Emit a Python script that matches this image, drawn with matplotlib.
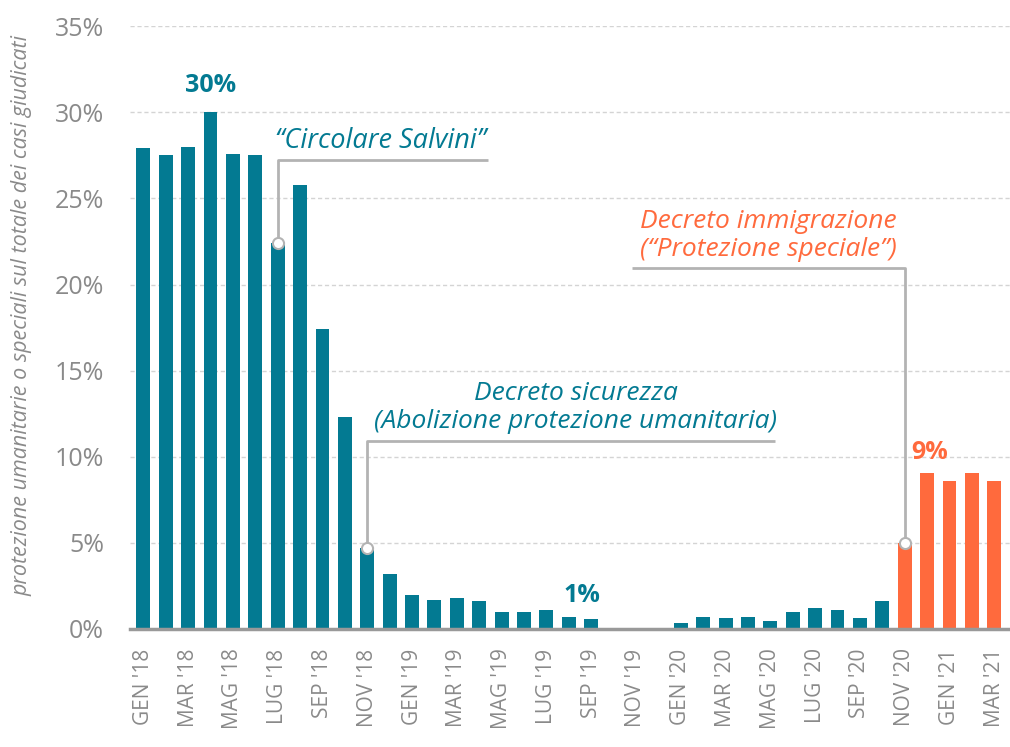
import matplotlib
matplotlib.use("Agg")
import matplotlib.pyplot as plt
import numpy as np

# --- Data ---
tick_months = ["GEN", "MAR", "MAG", "LUG", "SEP", "NOV"]
years = ["18", "19", "20", "21"]

share_2018 = [27.9, 27.5, 28.0, 30.0, 27.6, 27.5, 22.4, 25.8, 17.4, 12.3, 4.7, 3.2]
share_2019 = [2.0, 1.7, 1.8, 1.6, 1.0, 1.0, 1.1, 0.7, 0.6, 0.0, 0.0, 0.0]
share_2020 = [0.35, 0.7, 0.65, 0.7, 0.45, 1.0, 1.2, 1.1, 0.65, 1.6, 5.0, 9.05]
share_2021 = [8.6, 9.05, 8.6]

values = share_2018 + share_2019 + share_2020 + share_2021
first_new_law = 34   # NOV '20: bars from here on are orange

TEAL = "#037a92"
ORANGE = "#ff6a3d"
GREY_TXT = "#8a8a8a"
LINE_GREY = "#b3b3b3"

plt.rcParams["font.family"] = ["Open Sans", "DejaVu Sans"]

fig = plt.figure(figsize=(10.1, 7.47), dpi=100)
ax = fig.add_axes([0.129, 0.158, 0.871, 0.807])

x = np.arange(len(values))
colors = [TEAL if i < first_new_law else ORANGE for i in x]
ax.bar(x, values, width=0.62, color=colors, zorder=3)

# tick labels every two months
tick_pos = x[::2]
tick_lab = []
for i in tick_pos:
    y = years[i // 12]
    m = tick_months[(i % 12) // 2]
    tick_lab.append(f"{m} '{y}")
ax.set_xticks(tick_pos)
ax.set_xticklabels(tick_lab, rotation=90, fontsize=15, color=GREY_TXT)

ax.set_ylim(0, 35)
ax.set_xlim(-0.58, 38.7)
yt = np.arange(0, 36, 5)
ax.set_yticks(yt)
ax.set_yticklabels([f"{v}%" for v in yt], fontsize=18, color=GREY_TXT)
ax.tick_params(axis="both", length=0)
ax.tick_params(axis="y", pad=19)
ax.tick_params(axis="x", pad=14)

ax.grid(axis="y", color="#d4d4d4", linestyle=(0, (3, 2)), linewidth=1, zorder=0)
for s in ["top", "right", "left"]:
    ax.spines[s].set_visible(False)
ax.spines["bottom"].set_color("#999999")
ax.spines["bottom"].set_linewidth(2.5)
ax.spines["bottom"].set_zorder(4)

fig.text(0.022, 0.578, "protezione umanitarie o speciali sul totale dei casi giudicati",
         rotation=90, ha="center", va="center", fontsize=15.5, style="italic", color=GREY_TXT)

# --- Annotations ---
def callout(ax, i, top, y_line, x_end):
    ax.plot([i, i, x_end], [top, y_line, y_line], color=LINE_GREY, lw=2, zorder=4,
            solid_capstyle="butt")
    ax.plot(i, top, "o", ms=8, mfc="white", mec=LINE_GREY, mew=1.5, zorder=5)

callout(ax, 6, values[6], 27.2, 15.4)
ax.text(5.9, 27.5, "\u201cCircolare Salvini\u201d", color=TEAL, fontsize=19.5,
        style="italic", ha="left", va="bottom", zorder=5)

callout(ax, 10, values[10], 10.9, 28.2)
ax.text(19.3, 11.3, "Decreto sicurezza\n(Abolizione protezione umanitaria)", color=TEAL,
        fontsize=19, style="italic", ha="center", va="bottom", linespacing=1.15, zorder=5)

callout(ax, 34, values[34], 20.95, 21.8)
ax.text(27.9, 21.3, "Decreto immigrazione\n(\u201cProtezione speciale\u201d)", color=ORANGE,
        fontsize=19, style="italic", ha="center", va="bottom", linespacing=1.15, zorder=5)

ax.text(3, 30.8, "30%", color=TEAL, fontsize=18, fontweight="bold", ha="center", va="bottom")
ax.text(19.6, 1.2, "1%", color=TEAL, fontsize=18, fontweight="bold", ha="center", va="bottom")
ax.text(35.1, 9.5, "9%", color=ORANGE, fontsize=18, fontweight="bold", ha="center", va="bottom")

fig.savefig("out.png", dpi=100)
